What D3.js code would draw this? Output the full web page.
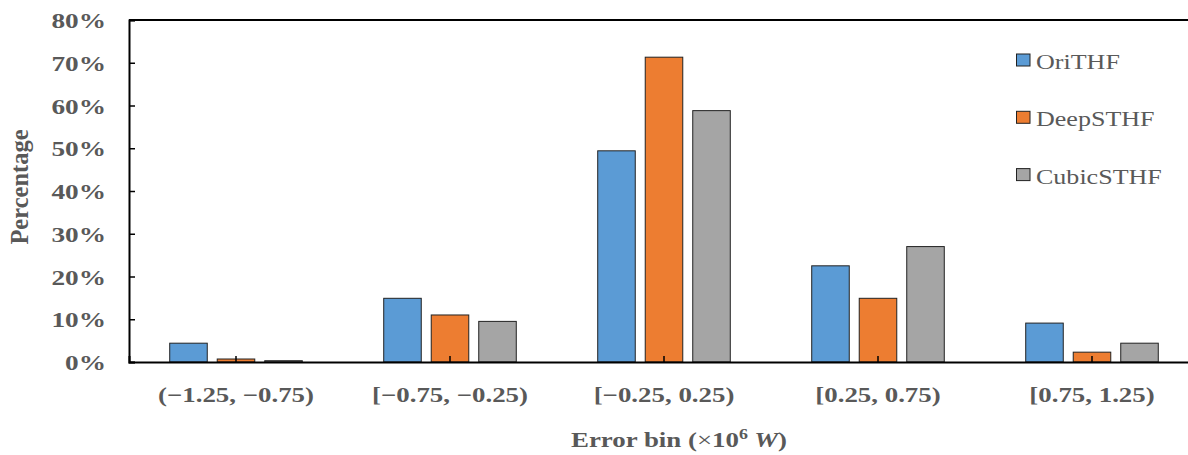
<!DOCTYPE html>
<html><head><meta charset="utf-8">
<script src="https://cdn.jsdelivr.net/npm/d3@7"></script>
<style>body{margin:0;background:#fff}svg{display:block}</style>
</head><body>
<svg id="c" width="1188" height="455"></svg>
<script>
const categories = ["(\u22121.25, \u22120.75)", "[\u22120.75, \u22120.25)", "[\u22120.25, 0.25)", "[0.25, 0.75)", "[0.75, 1.25)"];
const seriesNames = ["OriTHF", "DeepSTHF", "CubicSTHF"];
const oriTHF = [4.4, 14.9, 49.4, 22.5, 9.1];
const deepSTHF = [0.7, 11.0, 71.3, 14.9, 2.3];
const cubicSTHF = [0.3, 9.5, 58.8, 27.0, 4.4];
const yTicks = [0, 10, 20, 30, 40, 50, 60, 70, 80];
const colors = ["#5B9BD5", "#ED7D31", "#A5A5A5"];

const values = [oriTHF, deepSTHF, cubicSTHF];
const svg = d3.select("#c");
const L = 129, R = 1199, T = 20, B = 362;
const serif = "'Liberation Serif','Times New Roman',serif";
const txt = "#595959";
const SX = 1.28;

const x0 = d3.scaleBand().domain(categories).range([L, R]).paddingInner(0).paddingOuter(0);
const x1 = d3.scaleBand().domain(seriesNames).range([0, x0.bandwidth()]).paddingInner(0.21).paddingOuter(0.857);
const y = d3.scaleLinear().domain([0, 80]).range([B, T]);

// bars
categories.forEach((c, ci) => {
  const g = svg.append("g").attr("transform", `translate(${x0(c)},0)`);
  seriesNames.forEach((s, si) => {
    const v = values[si][ci];
    g.append("rect")
      .attr("x", x1(s)).attr("y", y(v))
      .attr("width", x1.bandwidth()).attr("height", B - y(v))
      .attr("fill", colors[si]).attr("stroke", "#222").attr("stroke-width", 1);
  });
});

// left axis
const yAxis = d3.axisLeft(y).tickValues(yTicks).tickSize(-6).tickFormat(d => d + "%");
const ya = svg.append("g").attr("transform", `translate(${L},0)`).call(yAxis);
ya.select(".domain").attr("stroke", "#000").attr("stroke-width", 2);
ya.selectAll(".tick line").attr("stroke", "#000").attr("stroke-width", 1.5);
ya.selectAll(".tick text").attr("x", 0).attr("dy", "0.36em")
  .attr("transform", `translate(-23,0) scale(${SX + 0.02},1)`)
  .attr("font-family", serif).attr("font-size", 21).attr("font-weight", "bold").attr("fill", txt);

// top line
svg.append("line").attr("x1", L).attr("x2", R).attr("y1", y(80)).attr("y2", y(80)).attr("stroke", "#000").attr("stroke-width", 2);

// bottom axis
const xAxis = d3.axisBottom(x0).tickSize(-6);
const xa = svg.append("g").attr("transform", `translate(0,${B})`).call(xAxis);
xa.select(".domain").attr("stroke", "#000").attr("stroke-width", 2);
xa.selectAll(".tick line").attr("stroke", "#000").attr("stroke-width", 1.5);
xa.selectAll(".tick text").attr("y", 40).attr("dy", 0)
  .attr("transform", `scale(${SX},1)`)
  .attr("font-family", serif).attr("font-size", 21).attr("font-weight", "bold").attr("fill", txt);

// axis titles
svg.append("text").attr("transform", "translate(28,187) rotate(-90)")
  .attr("text-anchor", "middle").attr("font-family", serif).attr("font-size", 24.5)
  .attr("font-weight", "bold").attr("fill", txt).text("Percentage");

const xt = svg.append("text").attr("transform", `translate(679,447) scale(${SX},1)`).attr("text-anchor", "middle")
  .attr("font-family", serif).attr("font-size", 21).attr("font-weight", "bold").attr("fill", txt);
xt.append("tspan").text("Error bin (");
xt.append("tspan").attr("font-weight", "normal").text("\u00D7");
xt.append("tspan").text("10");
xt.append("tspan").attr("font-size", 14).attr("dy", -8).text("6");
xt.append("tspan").attr("dy", 8).attr("font-style", "italic").text(" W");
xt.append("tspan").text(")");

// legend
const lg = svg.append("g");
seriesNames.forEach((s, i) => {
  const cy = 60 + i * 57.3;
  lg.append("rect").attr("x", 1016.5).attr("y", cy - 6).attr("width", 13.5).attr("height", 12)
    .attr("fill", colors[i]).attr("stroke", "#222").attr("stroke-width", 1);
  lg.append("text").attr("transform", `translate(1036,${cy + 9}) scale(1.24,1)`).attr("font-family", serif)
    .attr("font-size", 21).attr("fill", txt).text(s);
});
</script>
</body></html>
